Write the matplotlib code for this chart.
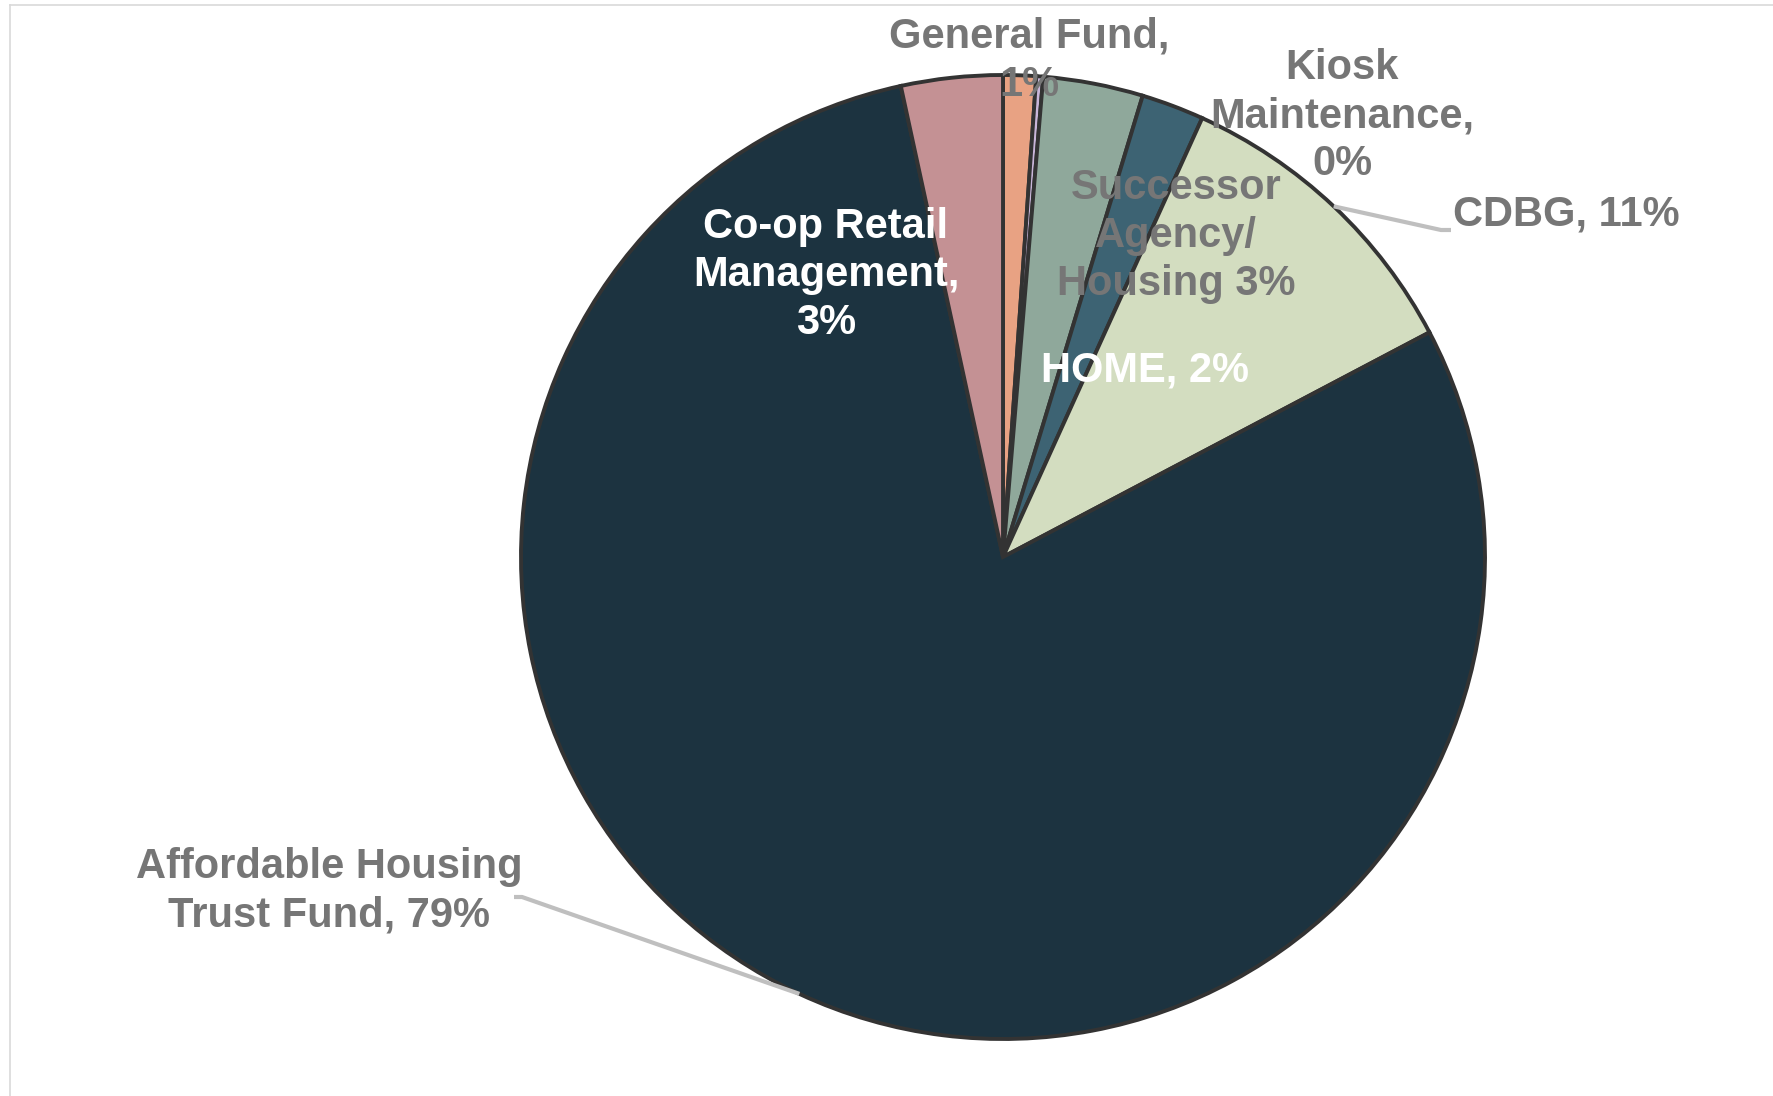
import matplotlib.pyplot as plt
from matplotlib.lines import Line2D
import numpy as np

# funding sources, clockwise from 12 o'clock
sources = ["General Fund", "Kiosk Maintenance", "Successor Agency/Housing", "HOME",
           "CDBG", "Affordable Housing Trust Fund", "Co-op Retail Management"]
shares = [1.1, 0.23, 3.35, 2.1, 10.5, 79.3, 3.4]
labels = ["General Fund,\n1%", "Kiosk\nMaintenance,\n0%", "Successor\nAgency/\nHousing 3%",
          "HOME, 2%", "CDBG, 11%", "Affordable Housing\nTrust Fund, 79%",
          "Co-op Retail\nManagement,\n3%"]
colors = ["#e8a283", "#c9b6d9", "#8fa89b", "#3d6373", "#d3ddc0", "#1c3340", "#c49194"]

W, H = 1773, 1096
CX, CY, R = 1003, 557, 482

# label placement in pixels of the figure
label_px = [(1029, 61), (1342, 116), (1176, 236), (1145, 370), (1566, 215), (329, 891), (826, 275)]
label_col = ["#767676", "#767676", "#767676", "white", "#767676", "#767676", "white"]
leaders = [False, False, False, False, True, True, False]

plt.rcParams['font.family'] = ['Liberation Sans', 'DejaVu Sans']

fig = plt.figure(figsize=(W / 100, H / 100), dpi=100)
ax = fig.add_axes([(CX - R) / W, (H - CY - R) / H, 2 * R / W, 2 * R / H])

wedges, _ = ax.pie(shares, colors=colors, startangle=90, counterclock=False, radius=1,
                   wedgeprops=dict(edgecolor='#333333', linewidth=2.8))
ax.set_xlim(-1, 1)
ax.set_ylim(-1, 1)
ax.axis('off')


def to_data(px, py):
    return (px - CX) / R, (CY - py) / R


for w, lab, (px, py), col, lead in zip(wedges, labels, label_px, label_col, leaders):
    tx, ty = to_data(px, py)
    ax.text(tx, ty, lab, ha='center', va='center', fontsize=30, fontweight='bold',
            color=col, linespacing=1.26, zorder=5, clip_on=False)
    if lead:
        mid = np.deg2rad((w.theta1 + w.theta2) / 2)
        ex, ey = np.cos(mid), np.sin(mid)
        if tx > 0:
            kx = tx - 125 / R
            ky = ty - 15 / R
            ax.plot([ex, kx, kx + 10 / R], [ey, ky, ky], color='#bfbfbf', lw=3,
                    solid_capstyle='butt', zorder=4, clip_on=False)
        else:
            kx = tx + 193 / R
            ky = ty - 6 / R
            ax.plot([ex, kx, kx - 8 / R], [ey, ky, ky], color='#bfbfbf', lw=3,
                    solid_capstyle='butt', zorder=4, clip_on=False)

# chart-area border (only top and left edges show)
fig.add_artist(Line2D([9.5 / W, 1.0], [1 - 4.5 / H, 1 - 4.5 / H], color='#d9d9d9', lw=1.2))
fig.add_artist(Line2D([9.5 / W, 9.5 / W], [0.0, 1 - 4.5 / H], color='#d9d9d9', lw=1.2))

fig.savefig("out.png", dpi=100)
